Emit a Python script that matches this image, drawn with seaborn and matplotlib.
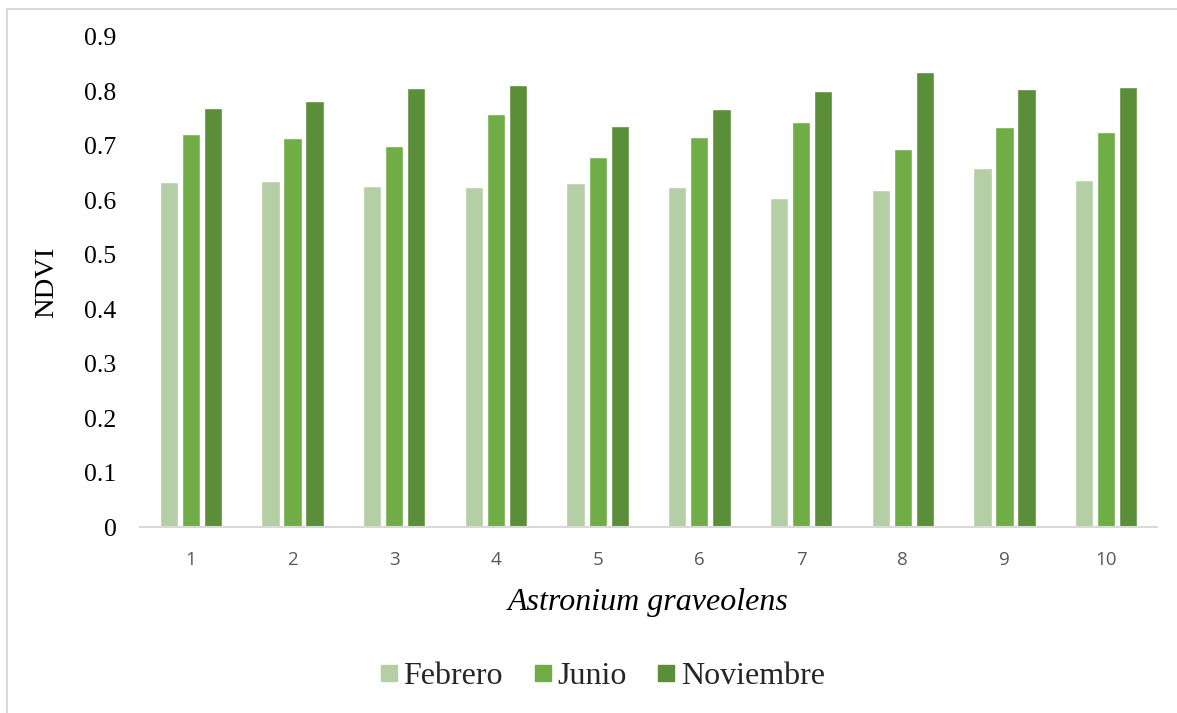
import numpy as np
import pandas as pd
import matplotlib
matplotlib.use("Agg")
import matplotlib.pyplot as plt
from matplotlib.lines import Line2D
import seaborn as sns

# NDVI per tree of Astronium graveolens, by month
trees = ["1", "2", "3", "4", "5", "6", "7", "8", "9", "10"]
febrero = [0.633, 0.636, 0.626, 0.625, 0.631, 0.624, 0.605, 0.619, 0.660, 0.637]
junio = [0.722, 0.714, 0.699, 0.758, 0.680, 0.716, 0.743, 0.694, 0.734, 0.726]
noviembre = [0.769, 0.782, 0.807, 0.812, 0.737, 0.768, 0.801, 0.835, 0.805, 0.809]
months = ["Febrero", "Junio", "Noviembre"]
yticks = [0, 0.1, 0.2, 0.3, 0.4, 0.5, 0.6, 0.7, 0.8, 0.9]
ytick_labels = ["0", "0.1", "0.2", "0.3", "0.4", "0.5", "0.6", "0.7", "0.8", "0.9"]

df = pd.DataFrame({
    "tree": trees * 3,
    "month": [m for m in months for _ in trees],
    "ndvi": febrero + junio + noviembre,
})

palette = {"Febrero": "#b4cfa6", "Junio": "#70ad47", "Noviembre": "#5b8e38"}

sns.set_theme(style="white")
plt.rcParams["font.family"] = ["Liberation Serif", "DejaVu Serif"]

W, H = 1177, 713
fig = plt.figure(figsize=(W / 100, H / 100), dpi=100)
ax = fig.add_axes([140 / W, 1 - 527 / H, (1157 - 140) / W, (527 - 37) / H])

sns.barplot(data=df, x="tree", y="ndvi", hue="month", order=trees,
            hue_order=months, palette=palette, width=0.65, gap=0.17,
            saturation=1, errorbar=None, ax=ax, legend=False)

ax.set_xlim(-0.5, len(trees) - 0.5)
ax.set_ylim(0, 0.9)
ax.set_yticks(yticks)
ax.set_yticklabels(ytick_labels, fontsize=18.5, color="black")
ax.tick_params(axis="y", length=0, pad=17)
ax.tick_params(axis="x", length=0, pad=17)
for lbl in ax.get_xticklabels():
    lbl.set_fontfamily("Open Sans")
    lbl.set_fontsize(13.5)
    lbl.set_color("#595959")

for side in ["top", "right", "left"]:
    ax.spines[side].set_visible(False)
ax.spines["bottom"].set_color("#d9d9d9")
ax.spines["bottom"].set_linewidth(1.5)

ax.set_ylabel("NDVI", fontsize=20.5, color="black", labelpad=18)
ax.set_xlabel("Astronium graveolens", fontsize=23, style="italic",
              color="black", labelpad=14)

handles = [Line2D([0], [0], marker="s", linestyle="none", markersize=11.5,
                  markerfacecolor=palette[m], markeredgecolor=palette[m])
           for m in months]
fig.legend(handles, months, loc="center", bbox_to_anchor=(602 / W, 1 - 676 / H),
           ncol=3, frameon=False, fontsize=23, handletextpad=0.15,
           columnspacing=0.95, handlelength=0.6)

# chart frame
fig.add_artist(Line2D([7 / W, 7 / W], [0, 1 - 9 / H], color="#d9d9d9", lw=1.5,
                      transform=fig.transFigure))
fig.add_artist(Line2D([7 / W, 1], [1 - 9 / H, 1 - 9 / H], color="#d9d9d9",
                      lw=1.5, transform=fig.transFigure))

fig.savefig("out.png", dpi=100, facecolor="white")
